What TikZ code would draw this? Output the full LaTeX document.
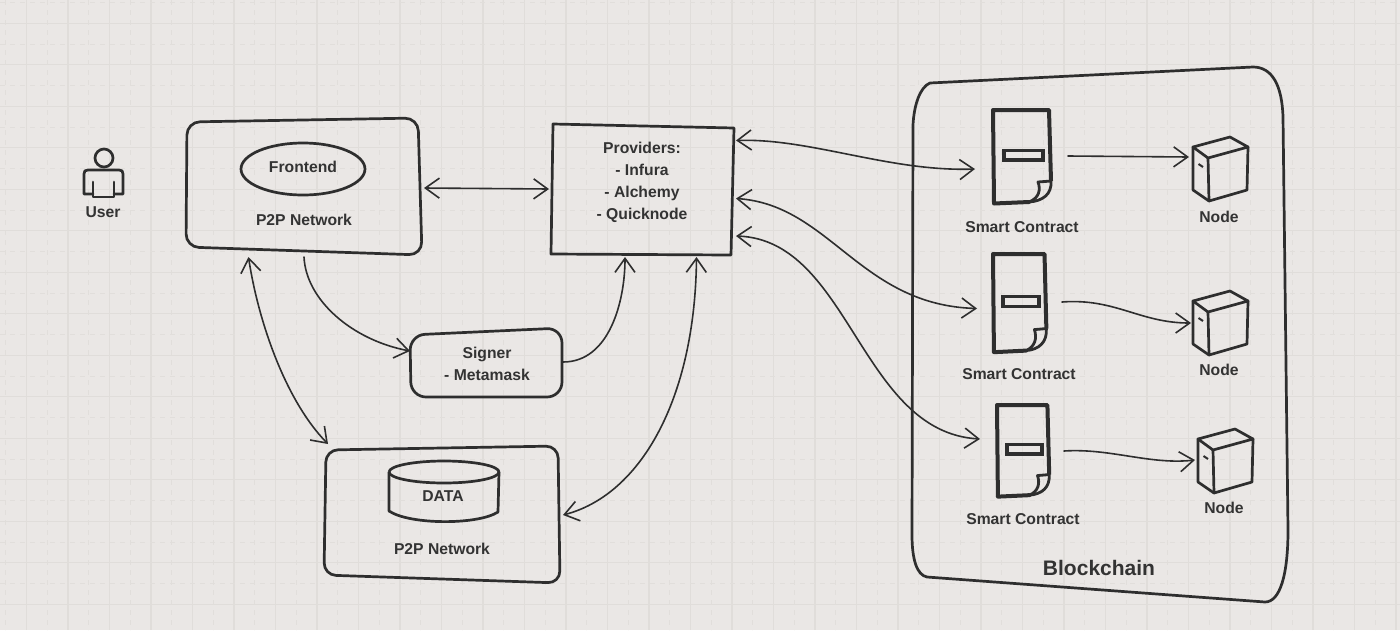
\documentclass[tikz,border=0pt]{standalone}
\usepackage{fontspec}
\setmainfont{Liberation Sans}
\usetikzlibrary{arrows.meta}
\definecolor{paper}{HTML}{EAE7E5}
\definecolor{gridline}{HTML}{E0DDDA}
\definecolor{griddashc}{HTML}{E1DEDB}
\definecolor{ink}{HTML}{2E2E2E}
\definecolor{textink}{HTML}{333333}
\tikzset{
  x=1pt,y=-1pt,
  gridsolid/.style={draw=gridline,line width=1.1pt},
  griddash/.style={draw=griddashc,line width=.9pt,dash pattern=on 5pt off 5pt},
  outline/.style={draw=ink,line width=2.7pt,line join=round},
  iconline/.style={draw=ink,line width=2.7pt,line join=round,line cap=round},
  link/.style={draw=ink,line width=1.6pt,line cap=round},
  oneway/.style={link,-{Straight Barb[length=14pt,width=20pt]}},
  twoway/.style={link,{Straight Barb[length=14pt,width=20pt]}-{Straight Barb[length=14pt,width=20pt]}},
  label/.style={text=textink,font=\fontsize{15.7}{19}\selectfont\bfseries,inner sep=0pt,align=center,yshift=-.3pt},
  biglabel/.style={text=textink,font=\fontsize{21}{25}\selectfont\bfseries,inner sep=0pt},
}
\newcommand{\contracticon}[4]{%
  \begin{scope}[shift={(#1,#2)},xscale=#4,yscale=#3]
    \draw[draw=ink,line width=4pt,line join=round] (1,93.5) -- (0,0) -- (56,0) -- (58,71);
    \draw[draw=ink,line width=4pt,line cap=round] (1,93.5) -- (36,92);
    \draw[draw=ink,line width=2.8pt,line join=round] (58,71)
      .. controls (59,84) and (50,91) .. (36,92);
    \draw[draw=ink,line width=2.8pt,line join=round,line cap=round] (58,71) -- (45,72)
      .. controls (48,80) and (46,88) .. (36,92);
    \draw[draw=ink,line width=3.4pt] (11,40.5) rectangle (50,50);
  \end{scope}}
\newcommand{\nodeicon}[2]{%
  \begin{scope}[shift={(#1,#2)}]
    \draw[iconline] (0,10) -- (37,0) -- (55,10) -- (15,21) -- cycle;
    \draw[iconline] (0,10) -- (0,53) -- (16,64) -- (54,53) -- (55,10);
    \draw[iconline] (15,21) -- (16,64);
    \draw[draw=ink,line width=2pt] (5.5,27) -- (10,30);
  \end{scope}}
\begin{document}
\begin{tikzpicture}
\fill[paper] (0,0) rectangle (1400,630);
\useasboundingbox (0,0) rectangle (1400,630);
% grid
\foreach \i in {0,...,33} {
  \draw[gridsolid] ({26.5+41.5*\i},0) -- ({26.5+41.5*\i},630);
  \draw[griddash] ({5.8+41.5*\i},0) -- ({5.8+41.5*\i},630);
}
\foreach \j in {0,...,14} {
  \draw[gridsolid] (0,{23.3+41.5*\j}) -- (1400,{23.3+41.5*\j});
  \draw[griddash] (0,{2.5+41.5*\j}) -- (1400,{2.5+41.5*\j});
}
% user
\draw[iconline] (104,158) circle (9);
\draw[iconline] (93,194) -- (84,194) -- (84,174) .. controls (84,171) and (85,170) .. (88,170)
  -- (119,170) .. controls (122,170) and (123,171) .. (123,174) -- (123,194) -- (114,194);
\draw[iconline] (93,182) -- (93,197) -- (114,197) -- (114,182);
\node[label] (user) at (103,212) {User};
% frontend box
\draw[outline,rounded corners=13pt] (187,122) -- (418,118) -- (422,255) -- (186,247) -- cycle;
\draw[outline] (303,169) ellipse (62 and 26);
\node[label] (frontend) at (303,167) {Frontend};
\node[label] (p2pa) at (304,220) {P2P Network};
% providers
\draw[outline] (553,124) -- (734,128) -- (731,255) -- (551,254) -- cycle;
\node[label] (providers) at (642,182) {Providers:\\[3pt]- Infura\\[3pt]- Alchemy\\[3pt]- Quicknode};
% signer
\draw[outline,rounded corners=15pt] (410,335) -- (562,328) -- (562,397) -- (411,397) -- cycle;
\node[label] (signer) at (487,364) {Signer\\[3pt]- Metamask};
% data box
\draw[outline,rounded corners=12pt] (326,450) -- (558,446) -- (560,583) -- (324,575) -- cycle;
\draw[outline] (389,472) arc[start angle=180,end angle=540,x radius=55,y radius=11];
\draw[outline] (389,472) -- (389,511) .. controls (410,525) and (478,525) .. (498,512) -- (499,472);
\node[label] (data) at (443,496) {DATA};
\node[label] (p2pb) at (442,549) {P2P Network};
% blockchain
\draw[outline] (930,83) -- (1253,67) .. controls (1272,67) and (1282,85) .. (1283,117)
  -- (1288,530) .. controls (1288,575) and (1280,602) .. (1265,602)
  -- (927,577) .. controls (917,575) and (912,560) .. (912,535)
  -- (913,125) .. controls (914,105) and (920,87) .. (930,83) -- cycle;
\node[biglabel] (chain) at (1099,568) {Blockchain};
% icons
\contracticon{993}{110}{1.0}{1.0}
\contracticon{993}{254}{1.05}{0.92}
\contracticon{997}{405}{0.98}{0.9}
\nodeicon{1193}{137}
\nodeicon{1193}{291}
\nodeicon{1198}{429}
\node[label] (sca) at (1022,227) {Smart Contract};
\node[label] (scb) at (1019,374) {Smart Contract};
\node[label] (scc) at (1023,519) {Smart Contract};
\node[label] (na) at (1219,217) {Node};
\node[label] (nb) at (1219,370) {Node};
\node[label] (nc) at (1224,508) {Node};
% connector ends
\coordinate (feR) at (424,188);
\coordinate (prL) at (549,189);
\coordinate (feB) at (248.5,257);
\coordinate (dtT) at (328,444);
\coordinate (feS) at (304,257);
\coordinate (sgL) at (410,351);
\coordinate (sgR) at (563,362);
\coordinate (prB) at (625,257);
\coordinate (prC) at (696.5,257);
\coordinate (dtR) at (563,515);
\coordinate (prA) at (736,140.5);
\coordinate (prD) at (736,198.5);
\coordinate (prE) at (736,236);
\coordinate (caL) at (975,169);
\coordinate (cbL) at (977,308.5);
\coordinate (ccL) at (980,439);
\coordinate (caR) at (1068,156);
\coordinate (cbR) at (1062,302);
\coordinate (ccR) at (1064,451);
\coordinate (naL) at (1189,157);
\coordinate (nbL) at (1191,323);
\coordinate (ncL) at (1195,460);
% connectors
\draw[twoway] (feR) -- (prL);
\draw[twoway] (feB) .. controls (258,320) and (285,400) .. (dtT);
\draw[oneway] (feS) .. controls (306,300) and (352,340) .. (sgL);
\draw[oneway] (sgR) .. controls (610,362) and (625,300) .. (prB);
\draw[twoway] (prC) .. controls (695,400) and (640,495) .. (dtR);
\draw[twoway] (prA) .. controls (810,138) and (890,172) .. (caL);
\draw[twoway] (prD) .. controls (830,205) and (860,305) .. (cbL);
\draw[twoway] (prE) .. controls (850,240) and (860,432) .. (ccL);
\draw[oneway] (caR) -- (naL);
\draw[oneway] (cbR) .. controls (1115,298) and (1140,323) .. (nbL);
\draw[oneway] (ccR) .. controls (1110,448) and (1150,465) .. (ncL);
\end{tikzpicture}
\end{document}
